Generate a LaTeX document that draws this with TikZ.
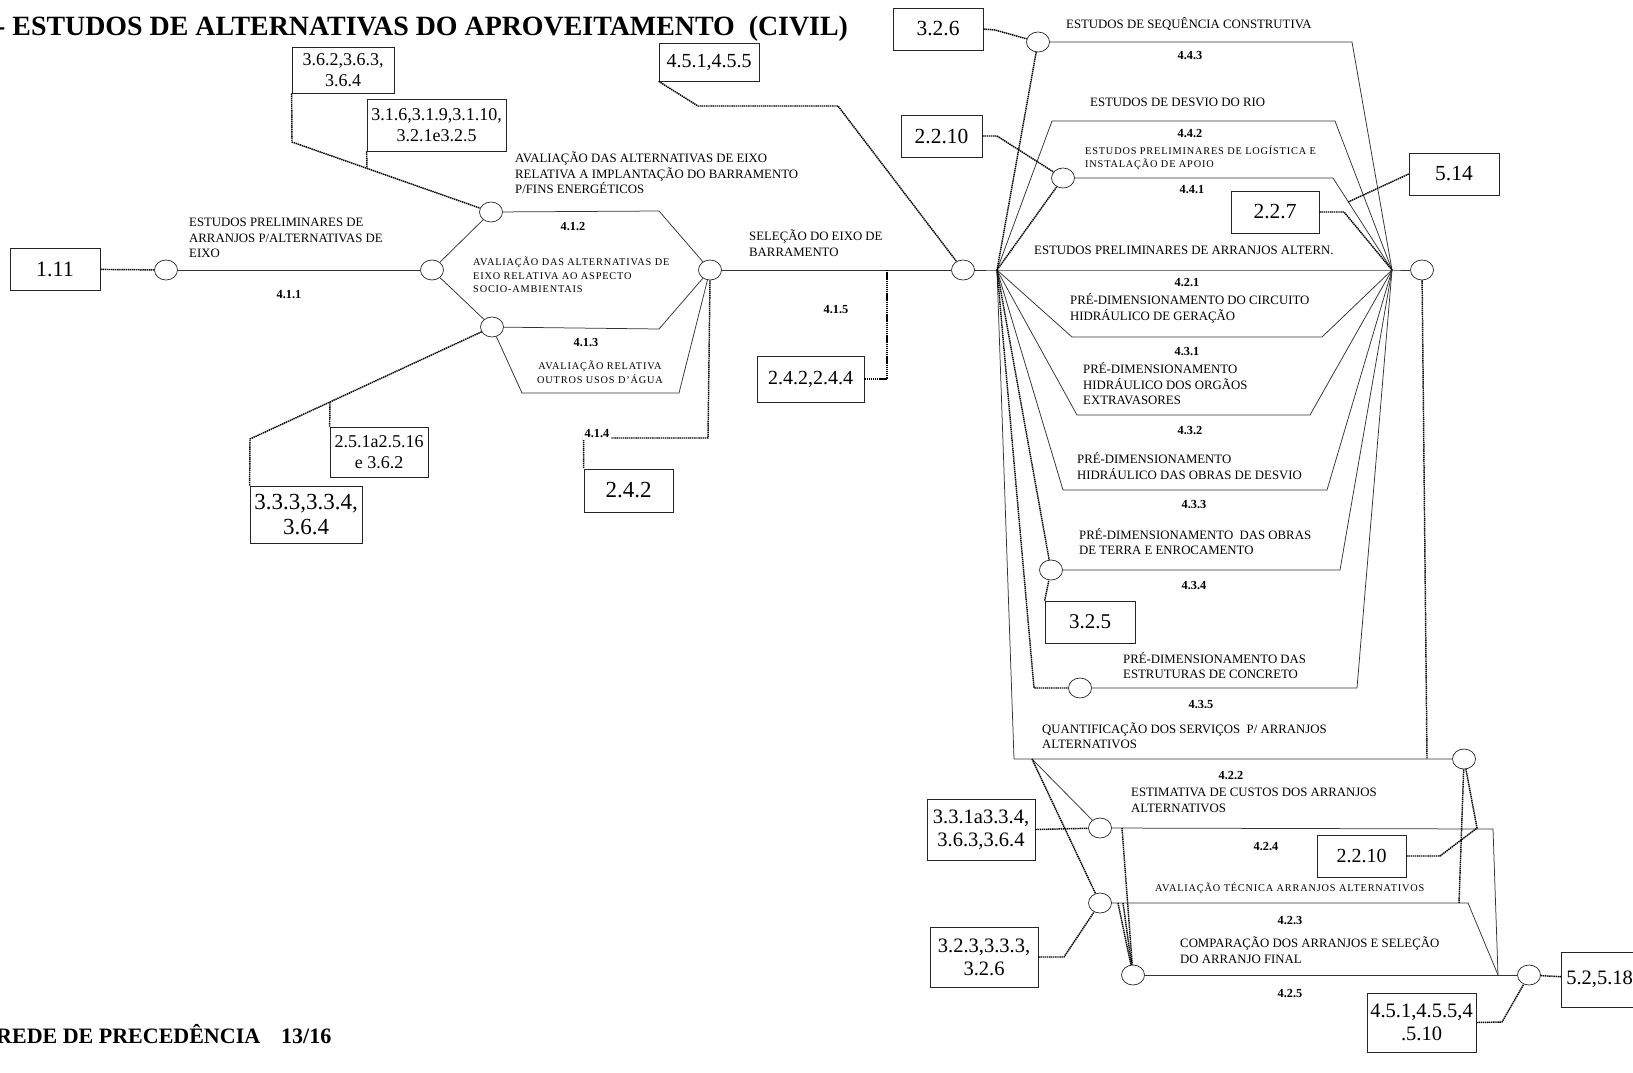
\documentclass[tikz,border=0pt]{standalone}
\usepackage{fontspec}
\setmainfont{Liberation Serif}
\newfontfamily\spacedfont[LetterSpace=8]{Liberation Serif}
\usetikzlibrary{shapes.geometric,calc}

\begin{document}
\begin{tikzpicture}[x=1pt,y=-1pt,
  ev/.style={ellipse,draw=black!85,line width=0.7pt,minimum width=23pt,minimum height=20pt,inner sep=0pt},
  ref/.style={draw=black!85,line width=0.7pt,align=center,inner sep=0pt,font=\fontsize{21.5}{23}\selectfont},
  refs/.style={ref,font=\fontsize{18}{21}\selectfont},
  refm/.style={ref,font=\fontsize{20.5}{23}\selectfont},
  act/.style={anchor=west,align=left,inner sep=0pt,font=\fontsize{12.8}{15.5}\selectfont},
  sact/.style={anchor=west,align=left,inner sep=0pt,font=\spacedfont\fontsize{10.3}{13.5}\selectfont},
  code/.style={inner sep=0pt,font=\bfseries\fontsize{12.3}{14}\selectfont},
  arc/.style={line width=0.75pt,black!80},
  dep/.style={line width=1.45pt,dash pattern=on 1.4pt off 0.7pt}]
\useasboundingbox (0,0) rectangle (1633,1072);
\fill[white] (0,0) rectangle (1633,1072);

\node[anchor=base west,inner sep=0pt,font=\bfseries\fontsize{27.9}{30}\selectfont] (title) at (-4,35) {- ESTUDOS DE ALTERNATIVAS DO APROVEITAMENTO~~(CIVIL)};
\node[anchor=base west,inner sep=0pt,font=\bfseries\fontsize{22}{24}\selectfont] (foot) at (-4,1043) {REDE DE PRECEDÊNCIA\hspace{21pt}13/16};

\node[ref,font=\fontsize{22}{24}\selectfont,minimum width=90pt,minimum height=42pt] (b111) at (55,269) {1.11};
\node[refs,minimum width=102pt,minimum height=46pt] (b362) at (343,70) {3.6.2,3.6.3,\\3.6.4};
\node[refs,minimum width=139pt,minimum height=52pt] (b316) at (436.5,125) {3.1.6,3.1.9,3.1.10,\\3.2.1e3.2.5};
\node[ref,font=\fontsize{20}{22}\selectfont,minimum width=100pt,minimum height=38pt] (b451) at (709,62) {4.5.1,4.5.5};
\node[ref,minimum width=90pt,minimum height=42pt] (b326) at (938,29) {3.2.6};
\node[ref,minimum width=81pt,minimum height=42pt] (b2210a) at (941.5,136) {2.2.10};
\node[ref,minimum width=90pt,minimum height=42pt] (b514) at (1454,174) {5.14};
\node[ref,minimum width=88pt,minimum height=42pt] (b227) at (1275,212) {2.2.7};
\node[ref,font=\fontsize{20}{22}\selectfont,minimum width=107pt,minimum height=46pt] (b2424) at (810.5,379) {2.4.2,2.4.4};
\node[refs,minimum width=98pt,minimum height=50pt] (b251) at (379,452) {2.5.1a2.5.16\\e 3.6.2};
\node[ref,font=\fontsize{23}{25}\selectfont,minimum width=112pt,minimum height=57pt] (b333) at (306,514.5) {3.3.3,3.3.4,\\3.6.4};
\node[ref,font=\fontsize{23}{25}\selectfont,minimum width=89pt,minimum height=43pt] (b242) at (628.5,490.5) {2.4.2};
\node[ref,font=\fontsize{21}{23}\selectfont,minimum width=90pt,minimum height=42pt] (b325) at (1090,622) {3.2.5};
\node[refm,minimum width=108pt,minimum height=61pt] (b331) at (981,829.5) {3.3.1a3.3.4,\\3.6.3,3.6.4};
\node[ref,font=\fontsize{20}{22}\selectfont,minimum width=89pt,minimum height=42pt] (b2210b) at (1361.5,856) {2.2.10};
\node[refm,minimum width=108pt,minimum height=60pt] (b323) at (984,957) {3.2.3,3.3.3,\\3.2.6};
\node[refm,minimum width=109pt,minimum height=59pt] (b4510) at (1421.5,1022.5) {4.5.1,4.5.5,4\\.5.10};
\node[ref,font=\fontsize{20.5}{22}\selectfont,anchor=west,align=left,text width=95pt,inner xsep=5pt,minimum height=55pt] (b52) at (1561,979.5) {5.2,5.18};

\node[ev] (c1) at (166,270) {};
\node[ev] (c2) at (432,270) {};
\node[ev] (c3) at (491,212) {};
\node[ev] (c4) at (492,327) {};
\node[ev] (c5) at (710,270) {};
\node[ev] (c6) at (963,270) {};
\node[ev] (c7) at (1038,42) {};
\node[ev] (c8) at (1063,178) {};
\node[ev] (c9) at (1422,270) {};
\node[ev] (c10) at (1051,570) {};
\node[ev] (c11) at (1080,688) {};
\node[ev] (c12) at (1464,759) {};
\node[ev] (c13) at (1100,828) {};
\node[ev] (c14) at (1100,903) {};
\node[ev] (c15) at (1133,975) {};
\node[ev] (c16) at (1529,975) {};

\coordinate (F1) at (997,270);
\coordinate (F2) at (1392,270);
\coordinate (F3) at (1498,975);
\coordinate (k412) at (659,211);
\coordinate (k413) at (659,329);
\coordinate (k414a) at (522,393);
\coordinate (k414b) at (679,393);
\coordinate (k443) at (1352,42);
\coordinate (k442a) at (1052,121);
\coordinate (k442b) at (1335,121);
\coordinate (k441) at (1333,178);
\coordinate (k431a) at (1072,337);
\coordinate (k431b) at (1322,337);
\coordinate (k432a) at (1077,415);
\coordinate (k432b) at (1310,415);
\coordinate (k433a) at (1063,490);
\coordinate (k433b) at (1327,490);
\coordinate (k434) at (1340,570);
\coordinate (k435) at (1357,688);
\coordinate (k422) at (1014,759);
\coordinate (k424) at (1493,829);
\coordinate (k423) at (1468,903);

\coordinate (d1) at (292,142);
\coordinate (d2) at (367,168);
\coordinate (d3) at (250,439);
\coordinate (d4) at (330,402);
\coordinate (d5) at (708,438);
\coordinate (d6) at (887,270);
\coordinate (d7a) at (698,106);
\coordinate (d7b) at (838,106);
\coordinate (d8) at (995,30);
\coordinate (d9) at (997,136);
\coordinate (d10) at (1344,212);
\coordinate (d11) at ($(k441)!0.26!(F2)$);
\coordinate (d12) at (1034,688);
\coordinate (d13) at (1427,759);
\coordinate (d14) at (1032,759);
\coordinate (d15) at (1064,957);
\coordinate (d16) at (1440,856);
\coordinate (d17) at (1477,828);
\coordinate (d18) at (1459,903);
\coordinate (d19) at (1502,1022);
\coordinate (d20) at (1122,828);
\coordinate (d21) at (1118,903);
\coordinate (d22) at (1123,903);

\draw[arc] (c1) -- (c2);
\draw[arc] (c2) -- (c3);
\draw[arc] (c2) -- (c4);
\draw[arc] (c3) -- (k412) -- (c5);
\draw[arc] (c4) -- (k413) -- (c5);
\draw[arc] (c4) -- (k414a) -- (k414b) -- (c5);
\draw[arc] (c5) -- (c6);
\draw[arc] (c6) -- (F1) -- (F2) -- (c9);
\draw[arc] (c7) -- (k443) -- (F2);
\draw[arc] (F1) -- (k442a) -- (k442b) -- (F2);
\draw[arc] (c8) -- (k441) -- (F2);
\draw[arc] (F1) -- (k431a) -- (k431b) -- (F2);
\draw[arc] (F1) -- (k432a) -- (k432b) -- (F2);
\draw[arc] (F1) -- (k433a) -- (k433b) -- (F2);
\draw[arc] (c10) -- (k434) -- (F2);
\draw[arc] (c11) -- (k435) -- (F2);
\draw[arc] (F1) -- (k422) -- (c12);
\draw[arc] (d14) -- (c13);
\draw[arc] (c13) -- (k424) -- (F3);
\draw[arc] (c14) -- (k423) -- (F3);
\draw[arc] (c15) -- (c16);

\draw[dep] (b111) -- (c1);
\draw[dep] (b362.south west) -- (d1) -- (c3);
\draw[dep] (b316.south west) -- (d2);
\draw[dep] (c4) -- (d3) -- (b333.north west);
\draw[dep] (b251.north west) -- (d4);
\draw[dep] (c5.south) -- (d5) -| (b242.north west);
\draw[dep] (d6) |- (b2424.east);
\draw[dep] (b451.south west) -- (d7a) -- (d7b) -- (c6);
\draw[dep] (b326.east) -- (d8) -- (c7);
\draw[dep] (b2210a.east) -- (d9) -- (c8);
\draw[dep] (c7) -- (F1);
\draw[dep] (c8) -- (F1);
\draw[dep] (b227.east) -- (d10) -- (F2);
\draw[dep] (b514.west) -- (d11);
\draw[dep] (F1) -- (c10);
\draw[dep] (b325.north west) -- (c10);
\draw[dep] (F1) -- (d12) -- (c11);
\draw[dep] (c9) -- (d13);
\draw[dep] (d14) -- (c14);
\draw[dep] (b331.east) -- (c13);
\draw[dep] (b323.east) -- (d15) -- (c14);
\draw[dep] (d20) -- (c15);
\draw[dep] (d21) -- (c15);
\draw[dep] (d22) -- (c15);
\draw[dep] (b2210b.east) -- (d16) -- (d17) -- (c12);
\draw[dep] (c12) -- (d18);
\draw[dep] (b4510.east) -- (d19) -- (c16);
\draw[dep] (c16) -- (b52);

\node[act] (l411) at (189,238) {ESTUDOS PRELIMINARES DE\\ARRANJOS P/ALTERNATIVAS DE\\EIXO};
\node[act] (l412) at (515,173) {AVALIAÇÃO DAS ALTERNATIVAS DE EIXO\\RELATIVA A IMPLANTAÇÃO DO BARRAMENTO\\P/FINS ENERGÉTICOS};
\node[sact] (l413) at (473,275) {AVALIAÇÃO DAS ALTERNATIVAS DE\\EIXO RELATIVA AO ASPECTO\\SOCIO-AMBIENTAIS};
\node[sact,anchor=center,align=center] (l414) at (600,372) {AVALIAÇÃO RELATIVA\\OUTROS USOS D’ÁGUA};
\node[act] (l415) at (749,243) {SELEÇÃO DO EIXO DE\\BARRAMENTO};
\node[act] (l443) at (1066,24) {ESTUDOS DE SEQUÊNCIA CONSTRUTIVA};
\node[act] (l442) at (1090,102) {ESTUDOS DE DESVIO DO RIO};
\node[sact] (l441) at (1085,157.5) {ESTUDOS PRELIMINARES DE LOGÍSTICA E\\INSTALAÇÃO DE APOIO};
\node[act] (l421) at (1034,250) {ESTUDOS PRELIMINARES DE ARRANJOS ALTERN.};
\node[act] (l431) at (1070,308.5) {PRÉ-DIMENSIONAMENTO DO CIRCUITO\\HIDRÁULICO DE GERAÇÃO};
\node[act] (l432) at (1083,384) {PRÉ-DIMENSIONAMENTO\\HIDRÁULICO DOS ORGÃOS\\EXTRAVASORES};
\node[act] (l433) at (1077,466) {PRÉ-DIMENSIONAMENTO\\HIDRÁULICO DAS OBRAS DE DESVIO};
\node[act] (l434) at (1079,541.5) {PRÉ-DIMENSIONAMENTO~~DAS OBRAS\\DE TERRA E ENROCAMENTO};
\node[act] (l435) at (1123,665.5) {PRÉ-DIMENSIONAMENTO DAS\\ESTRUTURAS DE CONCRETO};
\node[act] (l422) at (1042,735.5) {QUANTIFICAÇÃO DOS SERVIÇOS~~P/ ARRANJOS\\ALTERNATIVOS};
\node[act] (l424) at (1131,800.5) {ESTIMATIVA DE CUSTOS DOS ARRANJOS\\ALTERNATIVOS};
\node[sact] (l423) at (1155,888) {AVALIAÇÃO TÉCNICA ARRANJOS ALTERNATIVOS};
\node[act] (l425) at (1180,950) {COMPARAÇÃO DOS ARRANJOS E SELEÇÃO\\DO ARRANJO FINAL};

\node[code] (n411) at (289,295) {4.1.1};
\node[code] (n412) at (573,227) {4.1.2};
\node[code] (n413) at (586,343) {4.1.3};
\node[code,fill=white,inner sep=2pt] (n414) at (597,434) {4.1.4};
\node[code] (n415) at (836,310) {4.1.5};
\node[code] (n443) at (1190,56) {4.4.3};
\node[code] (n442) at (1190,134) {4.4.2};
\node[code] (n441) at (1192,190) {4.4.1};
\node[code] (n421) at (1187,283) {4.2.1};
\node[code] (n431) at (1187,352) {4.3.1};
\node[code] (n432) at (1190,431) {4.3.2};
\node[code] (n433) at (1194,505) {4.3.3};
\node[code] (n434) at (1194,586) {4.3.4};
\node[code] (n435) at (1201,705) {4.3.5};
\node[code] (n422) at (1231,776) {4.2.2};
\node[code] (n424) at (1266,846) {4.2.4};
\node[code] (n423) at (1290,920) {4.2.3};
\node[code] (n425) at (1290,993) {4.2.5};
\end{tikzpicture}
\end{document}
